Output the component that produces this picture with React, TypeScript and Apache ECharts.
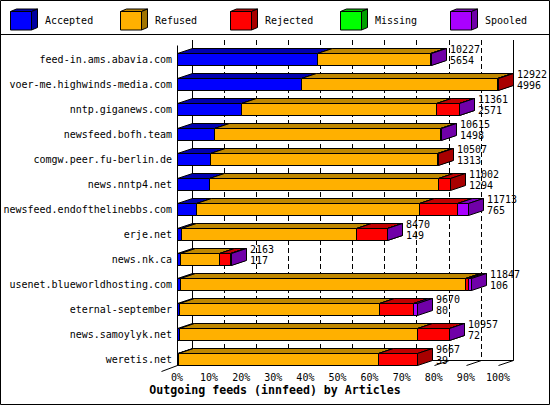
import React, { useEffect, useRef } from "react";
import * as echarts from "echarts";

const FONT = "'DejaVu Sans Mono', 'Liberation Mono', monospace";

const categories = [
  "feed-in.ams.abavia.com",
  "voer-me.highwinds-media.com",
  "nntp.giganews.com",
  "newsfeed.bofh.team",
  "comgw.peer.fu-berlin.de",
  "news.nntp4.net",
  "newsfeed.endofthelinebbs.com",
  "erje.net",
  "news.nk.ca",
  "usenet.blueworldhosting.com",
  "eternal-september",
  "news.samoylyk.net",
  "weretis.net",
];

const accepted = [5654, 4996, 2571, 1498, 1313, 1294, 765, 149, 117, 106, 80, 72, 39];
const refused = [4532, 7886, 7844, 9090, 9170, 9227, 8990, 7045, 1586, 11501, 8065, 9578, 8041];
const rejected = [0, 40, 931, 0, 24, 481, 1506, 1250, 420, 121, 1369, 1280, 1587];
const missing = [0, 0, 0, 0, 0, 0, 0, 0, 0, 0, 0, 0, 0];
const spooled = [41, 0, 15, 27, 0, 0, 452, 26, 40, 119, 156, 27, 0];

const seriesNames = ["Accepted", "Refused", "Rejected", "Missing", "Spooled"];
const frontColors = ["#0000ff", "#ffb000", "#ff0000", "#00ff00", "#aa00ff"];
const topColors = ["#0000b0", "#c08800", "#c00000", "#00c000", "#8000c0"];
const sideColors = ["#0000a0", "#a07400", "#a80000", "#00a000", "#7000a8"];

const xTicks = [0, 10, 20, 30, 40, 50, 60, 70, 80, 90, 100];
const titleText = "Outgoing feeds (innfeed) by Articles";

const DX = 15;
const DY = 5;
const HALF = 6;

export default function App() {
  const ref = useRef<HTMLDivElement>(null);

  useEffect(() => {
    document.body.style.margin = "0";
    if (!ref.current) return;
    const chart = echarts.init(ref.current, null, { renderer: "svg" });

    const datasets = [accepted, refused, rejected, missing, spooled];
    const totals = categories.map((_, i) => datasets.reduce((s, d) => s + d[i], 0));
    const maxTotal = Math.max(...totals);
    const pct = (v: number) => (v / maxTotal) * 100;

    const barSeries = datasets.map((d, k) => {
      const data = d.map((v, i) => {
        let start = 0;
        for (let j = 0; j < k; j++) start += datasets[j][i];
        return [pct(start), pct(start + v), i, v];
      });
      return {
        type: "custom",
        name: seriesNames[k],
        xAxisIndex: 0,
        yAxisIndex: 0,
        encode: { x: [0, 1], y: 2 },
        data,
        renderItem: (params: any, api: any) => {
          const v = api.value(3);
          if (!(v > 0)) return null;
          const i = api.value(2);
          const s = api.coord([api.value(0), i]);
          const e = api.coord([api.value(1), i]);
          const x0 = Math.round(s[0]) + 0.5;
          const x1 = Math.round(e[0]) + 0.5;
          const c = Math.round(s[1]) + 0.5;
          const st = { stroke: "#000", lineWidth: 1 };
          return {
            type: "group",
            children: [
              {
                type: "polygon",
                shape: { points: [[x0, c - HALF], [x0 + DX, c - HALF - DY], [x1 + DX, c - HALF - DY], [x1, c - HALF]] },
                style: { ...st, fill: topColors[k] },
              },
              {
                type: "polygon",
                shape: { points: [[x1, c - HALF], [x1 + DX, c - HALF - DY], [x1 + DX, c + HALF - DY], [x1, c + HALF]] },
                style: { ...st, fill: sideColors[k] },
              },
              {
                type: "rect",
                shape: { x: x0, y: c - HALF, width: x1 - x0, height: HALF * 2 },
                style: { ...st, fill: frontColors[k] },
              },
            ],
          };
        },
      };
    });

    const tickSeries = {
      type: "custom",
      xAxisIndex: 0,
      yAxisIndex: 0,
      encode: { x: 0, y: 1 },
      data: xTicks.map((t) => [t, categories.length - 1]),
      renderItem: (params: any, api: any) => {
        const p = api.coord([api.value(0), api.value(1)]);
        const x = Math.round(p[0]) + 0.5;
        const y = Math.round(p[1]) + HALF + 0.5;
        const children: any[] = [
          { type: "line", shape: { x1: x, y1: y, x2: x + DX, y2: y - DY }, style: { stroke: "#000", lineWidth: 1 } },
        ];
        if (api.value(0) === 0) {
          children.push({ type: "line", shape: { x1: x - DX - 1, y1: y + DY + 1, x2: x, y2: y }, style: { stroke: "#000", lineWidth: 1 } });
          children.push({ type: "line", shape: { x1: x, y1: y, x2: x, y2: y - 320 }, style: { stroke: "#000", lineWidth: 1 } });
        }
        if (api.value(0) === 100) {
          children.push({ type: "line", shape: { x1: x + DX, y1: y - DY, x2: x + DX, y2: y - DY - 320 }, style: { stroke: "#000", lineWidth: 1 } });
        }
        if (api.value(0) === 0) {
          children.push({ type: "line", shape: { x1: x + DX, y1: y - DY, x2: x + DX, y2: y - DY - 320 }, style: { stroke: "#000", lineWidth: 1 } });
        }
        return { type: "group", children };
      },
      z: 1,
    };

    const labelSeries = {
      type: "custom",
      xAxisIndex: 0,
      yAxisIndex: 0,
      encode: { x: 0, y: 1 },
      data: categories.map((_, i) => [pct(totals[i]), i, totals[i], accepted[i]]),
      renderItem: (params: any, api: any) => {
        const p = api.coord([api.value(0), api.value(1)]);
        const x = Math.round(p[0]) + DX + 4;
        const c = Math.round(p[1]);
        const ts = { fill: "#000", fontSize: 10, fontFamily: FONT, align: "left", verticalAlign: "middle" };
        return {
          type: "group",
          children: [
            { type: "text", style: { ...ts, text: String(api.value(2)), x, y: c - 10 } },
            { type: "text", style: { ...ts, text: String(api.value(3)), x, y: c + 1 } },
          ],
        };
      },
      z: 5,
    };

    const legendGraphics: any[] = [];
    seriesNames.forEach((name, k) => {
      const x0 = 10.5 + 110 * k;
      const yT = 11.5;
      const w = 21;
      const h = 18.5;
      const st = { stroke: "#000", lineWidth: 1 };
      legendGraphics.push({
        type: "polygon",
        shape: { points: [[x0, yT], [x0 + 6, yT - 2.5], [x0 + w + 6, yT - 2.5], [x0 + w, yT]] },
        style: { ...st, fill: topColors[k] },
      });
      legendGraphics.push({
        type: "polygon",
        shape: { points: [[x0 + w, yT], [x0 + w + 6, yT - 2.5], [x0 + w + 6, yT + h - 2.5], [x0 + w, yT + h]] },
        style: { ...st, fill: sideColors[k] },
      });
      legendGraphics.push({
        type: "rect",
        shape: { x: x0, y: yT, width: w, height: h },
        style: { ...st, fill: frontColors[k] },
      });
      legendGraphics.push({
        type: "text",
        x: 45 + 110 * k,
        y: 20.5,
        style: { text: name, fill: "#000", fontSize: 10, fontFamily: FONT, align: "left", verticalAlign: "middle" },
      });
    });

    const option: any = {
      animation: false,
      backgroundColor: "#ffffff",
      textStyle: { fontFamily: FONT },
      title: {
        text: titleText,
        left: "center",
        top: 384,
        padding: 0,
        textStyle: { fontFamily: FONT, fontSize: 11.6, fontWeight: "bold", color: "#000" },
      },
      grid: [
        { left: 177, top: 46.8, width: 321, height: 325 },
        { left: 192, top: 40, width: 321, height: 320 },
      ],
      xAxis: [
        {
          gridIndex: 0,
          type: "value",
          min: 0,
          max: 100,
          interval: 10,
          position: "bottom",
          offset: -6.8,
          axisLine: { show: false },
          axisTick: { show: false },
          splitLine: { show: false },
          axisLabel: { formatter: "{value}%", margin: 7, color: "#000", fontFamily: FONT, fontSize: 10 },
        },
        {
          gridIndex: 1,
          type: "value",
          min: 0,
          max: 100,
          interval: 10,
          axisLine: { show: false },
          axisTick: { show: false },
          axisLabel: { show: false },
          splitLine: { show: true, lineStyle: { color: "#000", width: 1, type: [5, 3] } },
        },
      ],
      yAxis: [
        {
          gridIndex: 0,
          type: "category",
          data: categories,
          inverse: true,
          axisLine: { show: false },
          axisTick: { show: false },
          splitLine: { show: false },
          axisLabel: { margin: 5, color: "#000", fontFamily: FONT, fontSize: 10 },
        },
        { gridIndex: 1, type: "value", show: false, min: 0, max: 1 },
      ],
      series: [tickSeries, ...barSeries, labelSeries],
      graphic: [
        {
          type: "rect",
          shape: { x: 0.5, y: 0.5, width: 549, height: 404 },
          style: { fill: "none", stroke: "#000", lineWidth: 1 },
          z: 0,
        },
        {
          type: "line",
          shape: { x1: 0, y1: 34.5, x2: 550, y2: 34.5 },
          style: { stroke: "#000", lineWidth: 1 },
          z: 0,
        },
        {
          type: "line",
          shape: { x1: 192.5, y1: 360.5, x2: 513.5, y2: 360.5 },
          style: { stroke: "#000", lineWidth: 1 },
          z: 0,
        },
        ...legendGraphics,
      ],
    };

    chart.setOption(option);
    return () => chart.dispose();
  }, []);

  return <div ref={ref} style={{ width: 550, height: 405 }} />;
}
